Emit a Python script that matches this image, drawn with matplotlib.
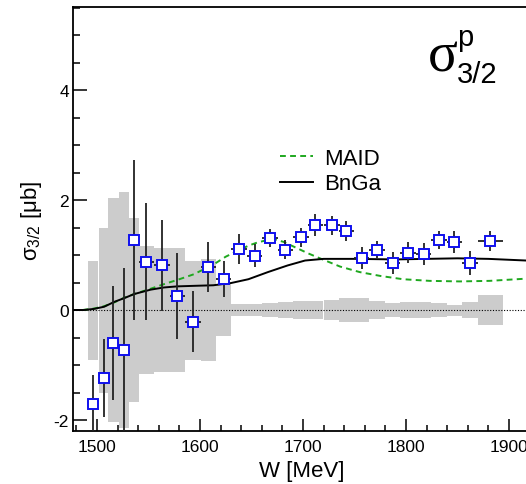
import matplotlib
matplotlib.use("Agg")
import matplotlib.pyplot as plt
from matplotlib.ticker import MultipleLocator

plt.rcParams['font.family'] = ['Liberation Sans', 'DejaVu Sans']
plt.rcParams['mathtext.fontset'] = 'custom'
plt.rcParams['mathtext.rm'] = 'Liberation Sans'
plt.rcParams['mathtext.it'] = 'Liberation Sans:italic'
plt.rcParams['axes.unicode_minus'] = False

# ---------------- data ----------------
W = [1496, 1506.5, 1516, 1526, 1536, 1548, 1563, 1578, 1593, 1608, 1623, 1638,
     1653, 1668, 1683, 1698, 1712, 1728, 1742, 1757, 1772, 1787, 1802, 1817,
     1832, 1847, 1862, 1882]
W_err = [5, 5, 5, 5, 5, 7.5, 7.5, 7.5, 7.5, 7.5, 7.5, 7.5, 7.5, 7.5, 7.5, 7.5,
         7.5, 7.5, 7.5, 7.5, 7.5, 7.5, 7.5, 7.5, 7.5, 7.5, 7.5, 12]
sigma = [-1.70, -1.24, -0.60, -0.73, 1.27, 0.88, 0.81, 0.26, -0.21, 0.78, 0.57,
         1.11, 0.99, 1.31, 1.10, 1.32, 1.55, 1.54, 1.43, 0.94, 1.10, 0.85, 1.04,
         1.01, 1.27, 1.23, 0.85, 1.26]
stat = [0.52, 0.71, 1.04, 1.50, 1.46, 1.07, 0.83, 0.78, 0.56, 0.46, 0.33, 0.28,
        0.21, 0.17, 0.17, 0.18, 0.20, 0.17, 0.18, 0.20, 0.16, 0.20, 0.19, 0.20,
        0.16, 0.20, 0.22, 0.18]
sys = [0.90, 1.50, 2.04, 2.14, 1.67, 1.17, 1.13, 1.13, 0.90, 0.93, 0.47, 0.11,
       0.11, 0.13, 0.15, 0.17, 0.17, 0.19, 0.21, 0.21, 0.16, 0.13, 0.14, 0.14,
       0.13, 0.10, 0.15, 0.27]

maid_W = [1486, 1498, 1507, 1517, 1526, 1536, 1551, 1565, 1580, 1594, 1609,
          1615, 1625, 1637, 1647, 1656, 1665, 1673, 1681, 1689, 1697, 1705,
          1719, 1736, 1755, 1775, 1797, 1823, 1852, 1881, 1916.5]
maid_val = [0.0, 0.03, 0.07, 0.14, 0.22, 0.29, 0.38, 0.47, 0.56, 0.65, 0.79,
            0.85, 0.97, 1.08, 1.17, 1.23, 1.27, 1.28, 1.24, 1.17, 1.10, 1.03,
            0.92, 0.79, 0.69, 0.62, 0.56, 0.53, 0.52, 0.53, 0.57]

bnga_W = [1477, 1487, 1497, 1507, 1517, 1527, 1536, 1552, 1565, 1578, 1595,
          1613, 1630, 1647, 1666, 1685, 1702, 1720, 1750, 1790, 1820, 1850,
          1880, 1916.5]
bnga_val = [0.0, 0.0, 0.02, 0.06, 0.15, 0.22, 0.29, 0.37, 0.41, 0.43, 0.44,
            0.45, 0.49, 0.56, 0.69, 0.81, 0.90, 0.93, 0.93, 0.92, 0.93, 0.94,
            0.93, 0.90]

xticks = [1500, 1600, 1700, 1800, 1900]
yticks = [-2, 0, 2, 4]

# ---------------- figure ----------------
FW, FH = 526, 485
fig = plt.figure(figsize=(FW / 100, FH / 100), dpi=100)
L, R, T, B = 73, 526, 8, 432
ax = fig.add_axes([L / FW, 1 - B / FH, (R - L) / FW, (B - T) / FH])
ax.set_xlim(1476.7, 1916.5)
ax.set_ylim(-2.2, 5.51)

# systematic band
ax.bar(W, [2 * s for s in sys], bottom=[-s for s in sys],
       width=[2 * e for e in W_err], color='#cccccc', edgecolor='none',
       zorder=1)
ax.axhline(0, color='black', lw=0.8, ls=(0, (1, 1.5)), zorder=2)

ax.plot(maid_W, maid_val, color='#1fa81f', lw=1.4, ls=(0, (3, 2.2)),
        label='MAID', zorder=3)
ax.plot(bnga_W, bnga_val, color='black', lw=1.4, label='BnGa', zorder=3)

ax.errorbar(W, sigma, yerr=stat, xerr=W_err, fmt='none', ecolor='#222222',
            elinewidth=1.3, capsize=0, zorder=4)
ax.plot(W, sigma, ls='none', marker='s', ms=6.6, mfc='white', mec='#1010ee',
        mew=1.4, zorder=5)

ax.spines['right'].set_visible(False)
for side in ['left', 'bottom', 'top']:
    ax.spines[side].set_linewidth(1.3)

ax.set_xticks(xticks)
ax.set_yticks(yticks)
ax.xaxis.set_minor_locator(MultipleLocator(20))
ax.yaxis.set_minor_locator(MultipleLocator(0.5))
ax.tick_params(axis='both', which='both', direction='in', top=False,
               right=False, width=1.1, labelsize=12.5)
ax.tick_params(axis='y', which='major', length=10, pad=3)
ax.tick_params(axis='y', which='minor', length=5)
ax.tick_params(axis='x', which='major', length=8.6, pad=6)
ax.tick_params(axis='x', which='minor', length=4.3)

def fpx(x, y):
    return x / FW, 1 - y / FH

fig.text(*fpx(301.5, 477), 'W [MeV]', fontsize=16, ha='center',
         va='baseline')
fig.text(*fpx(31, 221), r'$\mathregular{σ_{3/2}}$ [μb]', fontsize=16,
         rotation=90, ha='center', va='center')

fig.text(*fpx(428, 71), 'σ', fontsize=40, family='Liberation Serif',
         ha='left', va='baseline')
fig.text(*fpx(457, 46), 'p', fontsize=21, ha='left', va='baseline')
fig.text(*fpx(457, 83), '3/2', fontsize=21, ha='left', va='baseline')

ax.legend(loc='upper left', bbox_to_anchor=fpx(280, 149),
          bbox_transform=fig.transFigure, frameon=False, fontsize=16,
          handlelength=1.5, handletextpad=0.5, borderpad=0,
          borderaxespad=0, labelspacing=0.2)

fig.savefig('out.png', dpi=100)
